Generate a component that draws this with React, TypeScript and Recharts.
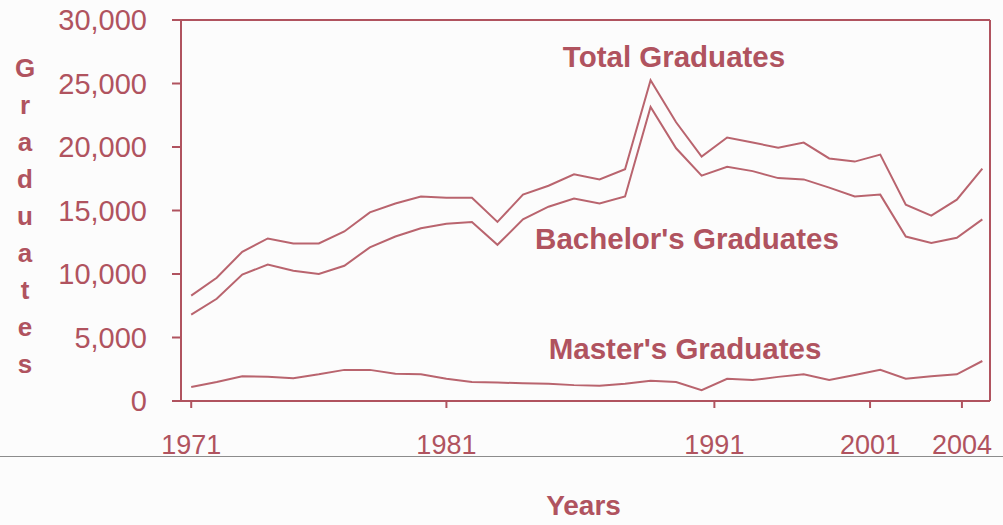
import React from "react";
import { LineChart, Line, XAxis, YAxis, ReferenceLine, Label } from "recharts";

// ==================== Data ====================

// one point per reported year
const totalGrads = [
    8300, 9700, 11750, 12800, 12400, 12400, 13350, 14850, 15550, 16100, 16000,
    16000, 14100, 16250, 16950, 17850, 17450, 18250, 25250, 21950, 19250,
    20750, 20350, 19950, 20350, 19100, 18850, 19400, 15450, 14600, 15850, 18300,
];

const bachelorGrads = [
    6800, 8050, 9950, 10750, 10250, 10000, 10650, 12100, 12950, 13600, 13950,
    14100, 12300, 14300, 15300, 15950, 15550, 16100, 23150, 19900, 17750,
    18450, 18100, 17550, 17450, 16800, 16100, 16250, 12950, 12450, 12850, 14300,
];

const masterGrads = [
    1100, 1500, 1950, 1900, 1800, 2100, 2450, 2450, 2150, 2100, 1750,
    1500, 1450, 1400, 1350, 1250, 1200, 1350, 1600, 1500, 850,
    1750, 1650, 1900, 2100, 1650, 2050, 2450, 1750, 1950, 2100, 3150,
];

const tickYears = ["1971", "1981", "1991", "2001", "2004"];
const tickIndex = [0, 10, 20.5, 26.6, 30.2];

const yTicks = [0, 5000, 10000, 15000, 20000, 25000, 30000];

const seriesNames = ["Total Graduates", "Bachelor's Graduates", "Master's Graduates"];
const yTitle = "Graduates";

const data = totalGrads.map((t, i) => ({
    i,
    total: t,
    bachelors: bachelorGrads[i],
    masters: masterGrads[i],
}));

// ==================== Styles ====================

const ink = "#b0535f";
const lineColor = "#b9646e";
const font = '"Liberation Sans", Arial, sans-serif';

const YTitle = () => (
    <text x={25} y={77} textAnchor="middle" fill={ink} fontSize={26} fontWeight="bold" fontFamily={font}>
        {yTitle.split("").map((ch, k) => (
            <tspan key={k} x={25} dy={k === 0 ? 0 : 37}>
                {ch}
            </tspan>
        ))}
    </text>
);

const XTitle = (props: any) => {
    const vb = props.viewBox || { x: 0, width: 0 };
    return (
        <text x={vb.x + vb.width / 2 - 2} y={515} textAnchor="middle" fill={ink} fontSize={28} fontWeight="bold" fontFamily={font}>
            Years
        </text>
    );
};

// ==================== Component ====================

export default function App() {
    return (
        <div
            style={{
                position: "absolute",
                left: 0,
                top: 0,
                width: 1003,
                height: 525,
                background: "#fcfcfc",
                fontFamily: font,
            }}
        >
            {/* stray rule from the scanned page */}
            <div style={{ position: "absolute", left: 0, top: 456, width: 1003, height: 1, background: "#8c8c8c" }} />

            <LineChart width={1003} height={525} data={data} margin={{ top: 20, right: 13, bottom: 64, left: 0 }}>
                <XAxis
                    type="number"
                    dataKey="i"
                    domain={[-0.4, 31.3]}
                    ticks={tickIndex}
                    tickFormatter={(v: number) => tickYears[tickIndex.indexOf(v)] ?? ""}
                    interval={0}
                    height={60}
                    tickSize={7}
                    tickMargin={27}
                    stroke={ink}
                    strokeWidth={2}
                    tick={{ fill: ink, fontSize: 27, fontFamily: font }}
                >
                    <Label content={<XTitle />} />
                </XAxis>
                <YAxis
                    domain={[0, 30000]}
                    ticks={yTicks}
                    tickFormatter={(v: number) => v.toLocaleString("en-US")}
                    width={181}
                    tickSize={9}
                    tickMargin={25}
                    stroke={ink}
                    strokeWidth={2}
                    tick={{ fill: ink, fontSize: 29, fontFamily: font }}
                >
                    <Label content={<YTitle />} />
                </YAxis>

                {/* box around the plot */}
                <ReferenceLine y={30000} stroke={ink} strokeWidth={2} />
                <ReferenceLine x={31.3} stroke={ink} strokeWidth={2} />

                <Line type="linear" dataKey="total" stroke={lineColor} strokeWidth={2} dot={false} isAnimationActive={false} />
                <Line type="linear" dataKey="bachelors" stroke={lineColor} strokeWidth={2} dot={false} isAnimationActive={false} />
                <Line type="linear" dataKey="masters" stroke={lineColor} strokeWidth={2} dot={false} isAnimationActive={false} />

                <text x={674} y={67} textAnchor="middle" fill={ink} fontSize={29.5} fontWeight="bold" fontFamily={font}>
                    {seriesNames[0]}
                </text>
                <text x={687} y={249} textAnchor="middle" fill={ink} fontSize={29.5} fontWeight="bold" fontFamily={font}>
                    {seriesNames[1]}
                </text>
                <text x={685} y={359} textAnchor="middle" fill={ink} fontSize={29.5} fontWeight="bold" fontFamily={font}>
                    {seriesNames[2]}
                </text>
            </LineChart>
        </div>
    );
}
